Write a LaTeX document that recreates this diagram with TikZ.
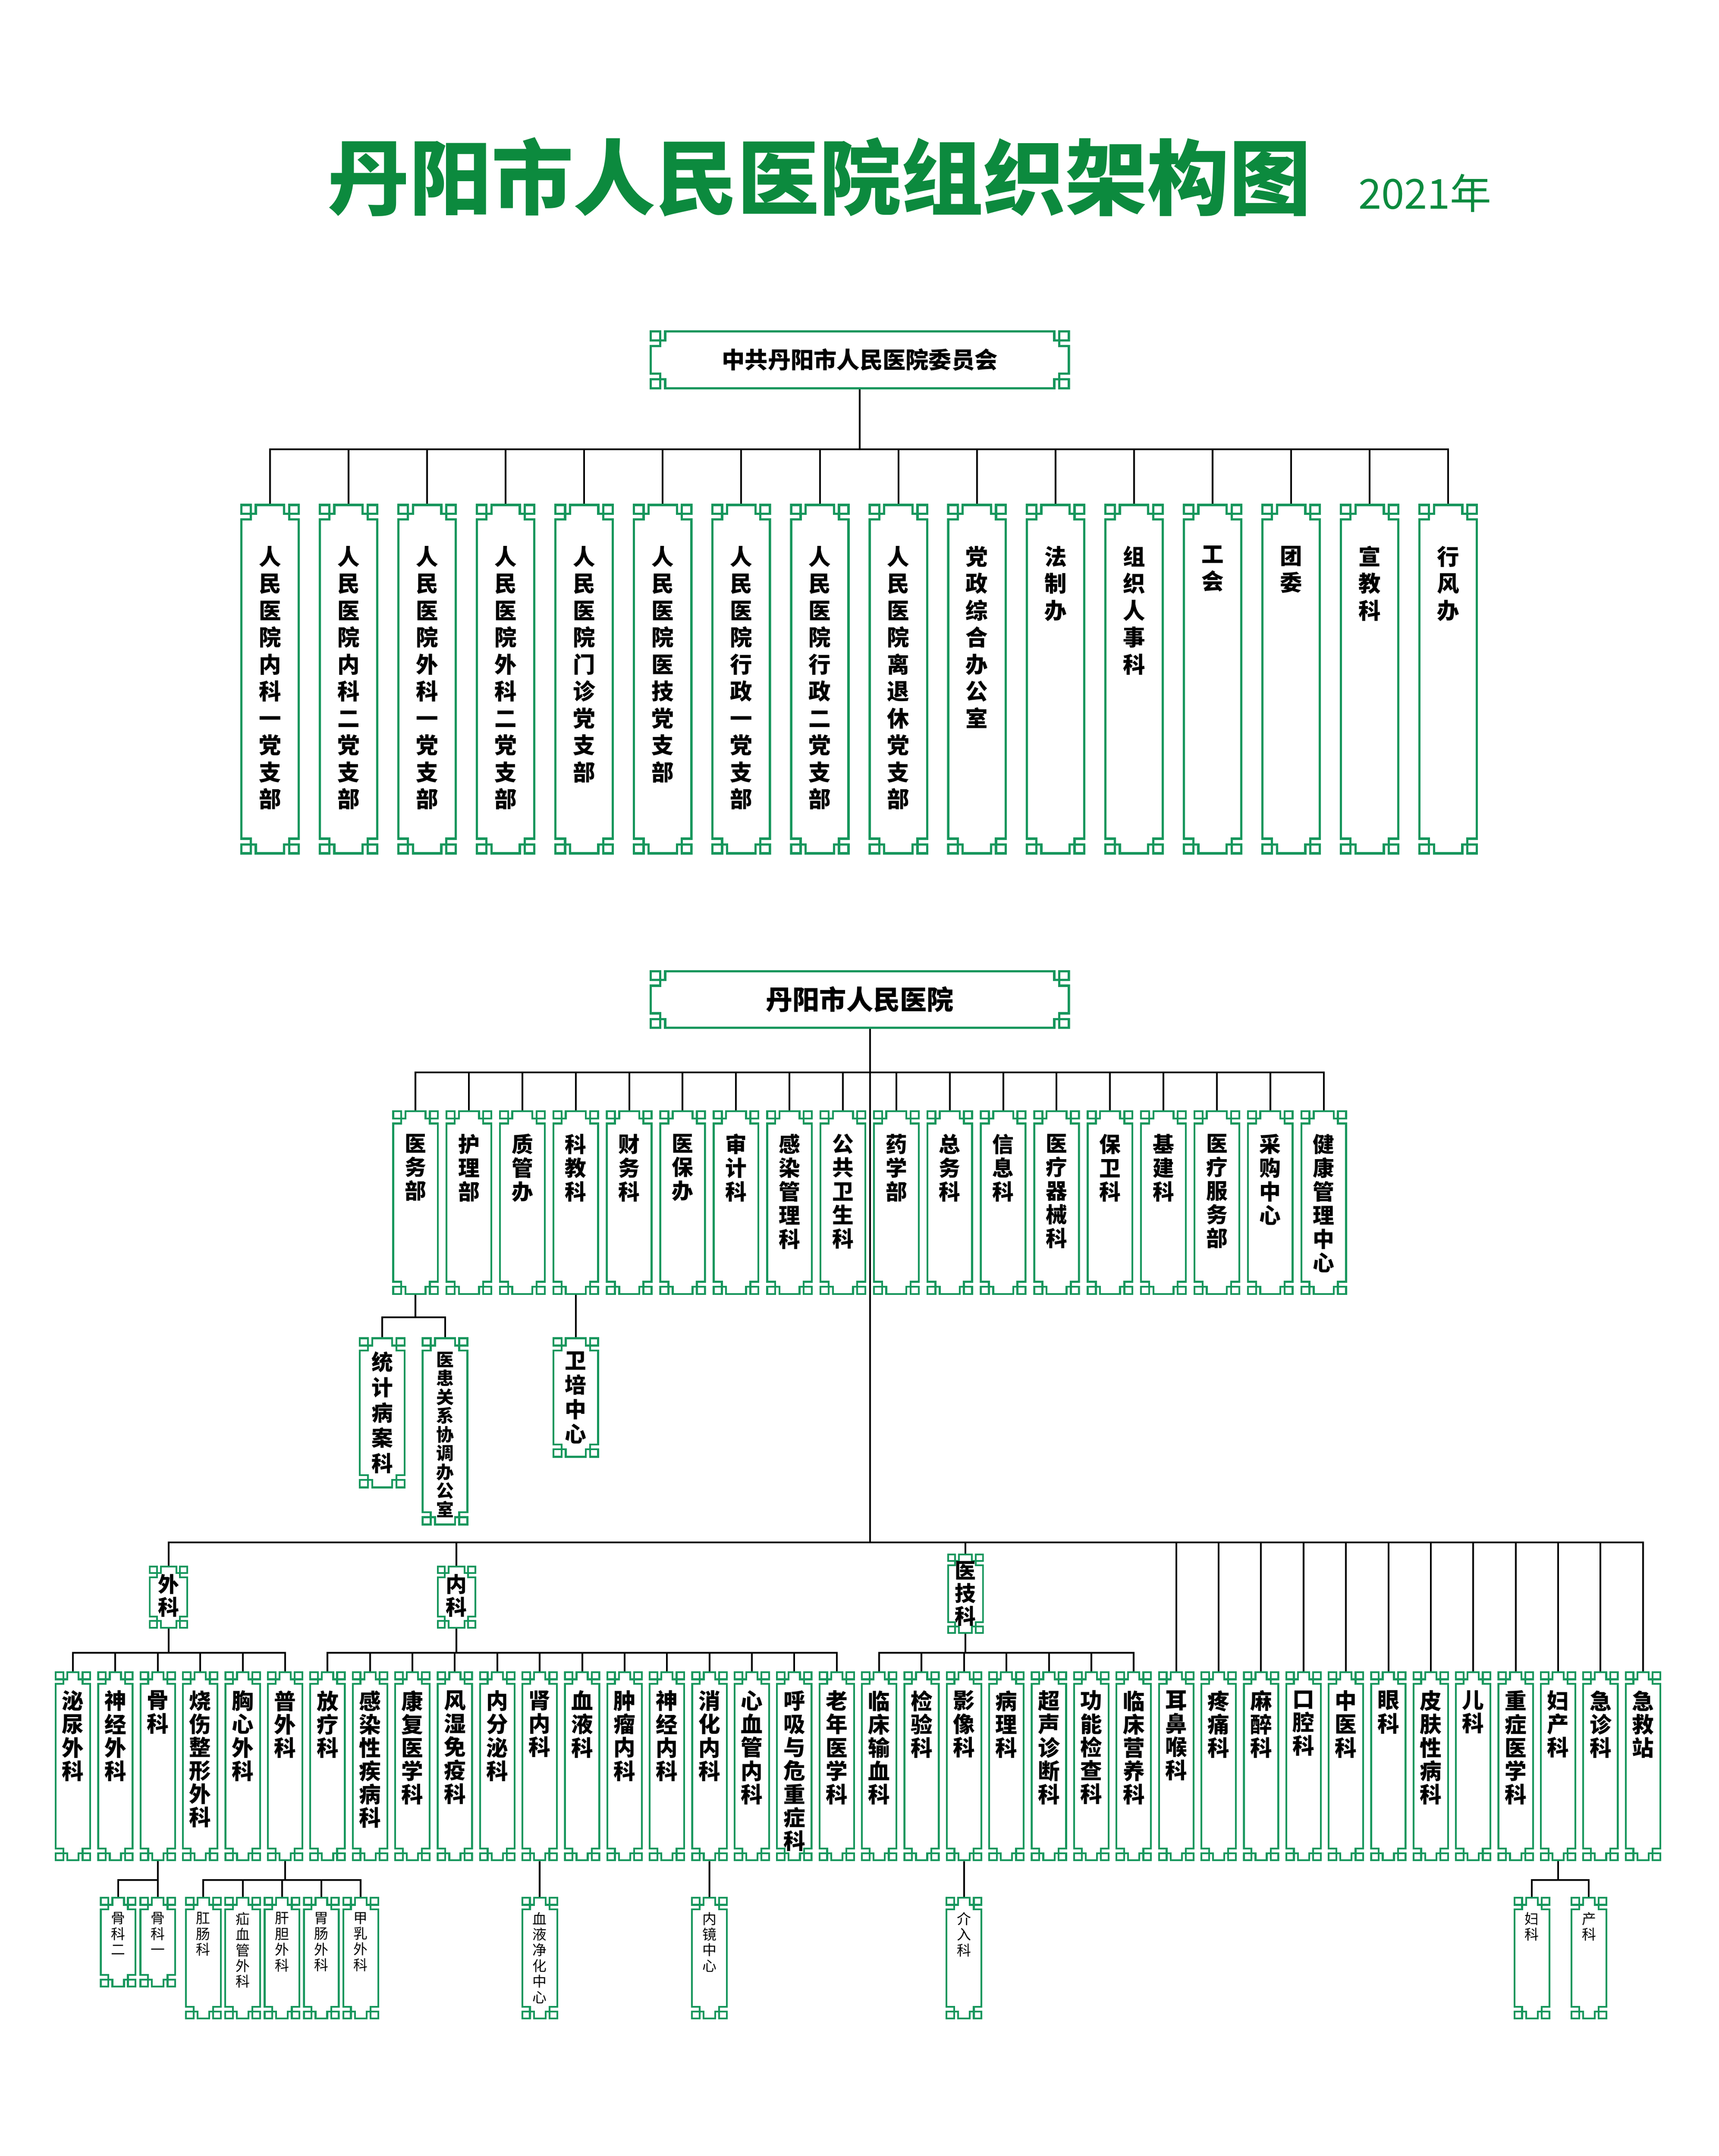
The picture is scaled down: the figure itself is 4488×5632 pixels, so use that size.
\documentclass[tikz,border=0pt]{standalone}
\usepackage{fontspec}
\setmainfont{Noto Sans CJK SC}
\usetikzlibrary{calc}
\definecolor{latgreen}{RGB}{22,150,92}
\definecolor{titlegreen}{RGB}{12,138,62}
% one character per line
\def\vloop#1{\ifx#1\relax\else\vsep#1\def\vsep{\\}\expandafter\vloop\fi}
\newcommand\vtext[1]{\def\vsep{}\edef\vtmp{#1}\expandafter\vloop\vtmp\relax}
\newcommand\vcell[4]{\parbox[t][#2][t]{#1}{\centering\vspace*{#3}\vtext{#4}}}
% lattice frame of a box
\newcommand\latticepath[1]{%
  \draw[latgreen,line width=#1*6pt]
    let \p1=(path picture bounding box.north west),
        \p2=(path picture bounding box.south east) in
    ({\x1+41*#1pt},{\y1-3*#1pt}) -- ({\x2-41*#1pt},{\y1-3*#1pt})
    -- ({\x2-41*#1pt},{\y1-26*#1pt}) -- ({\x2-28*#1pt},{\y1-26*#1pt})
    -- ({\x2-28*#1pt},{\y1-41*#1pt}) -- ({\x2-3*#1pt},{\y1-41*#1pt})
    -- ({\x2-3*#1pt},{\y2+41*#1pt}) -- ({\x2-28*#1pt},{\y2+41*#1pt})
    -- ({\x2-28*#1pt},{\y2+26*#1pt}) -- ({\x2-41*#1pt},{\y2+26*#1pt})
    -- ({\x2-41*#1pt},{\y2+3*#1pt}) -- ({\x1+41*#1pt},{\y2+3*#1pt})
    -- ({\x1+41*#1pt},{\y2+26*#1pt}) -- ({\x1+28*#1pt},{\y2+26*#1pt})
    -- ({\x1+28*#1pt},{\y2+41*#1pt}) -- ({\x1+3*#1pt},{\y2+41*#1pt})
    -- ({\x1+3*#1pt},{\y1-41*#1pt}) -- ({\x1+28*#1pt},{\y1-41*#1pt})
    -- ({\x1+28*#1pt},{\y1-26*#1pt}) -- ({\x1+41*#1pt},{\y1-26*#1pt}) -- cycle
    ({\x1+3*#1pt},{\y1-3*#1pt}) rectangle ({\x1+28*#1pt},{\y1-26*#1pt})
    ({\x2-3*#1pt},{\y1-3*#1pt}) rectangle ({\x2-28*#1pt},{\y1-26*#1pt})
    ({\x1+3*#1pt},{\y2+3*#1pt}) rectangle ({\x1+28*#1pt},{\y2+26*#1pt})
    ({\x2-3*#1pt},{\y2+3*#1pt}) rectangle ({\x2-28*#1pt},{\y2+26*#1pt});
}
\begin{document}
\begin{tikzpicture}[x=1pt,y=-1pt,
  lat/.style={fill=white,inner sep=0pt,outer sep=0pt,anchor=north,path picture={\latticepath{#1}}},
  head/.style={lat=1,minimum width=1098pt,minimum height=154pt},
  link/.style={line width=4.5pt}]
\fill[white] (0,0) rectangle (4488,5632);
\useasboundingbox (0,0) rectangle (4488,5632);

\node[text=titlegreen,font=\fontsize{214pt}{214pt}\selectfont\bfseries] (title) at (2140,463) {丹阳市人民医院组织架构图};
\node[text=titlegreen,font=\fontsize{108pt}{108pt}\selectfont] (year) at (3721,505) {2021年};

% party committee
\node[head,font=\fontsize{60pt}{60pt}\selectfont\bfseries] (party) at (2245,863) {中共丹阳市人民医院委员会};
\foreach \nm [count=\i from 0] in {人民医院内科一党支部,人民医院内科二党支部,人民医院外科一党支部,人民医院外科二党支部,人民医院门诊党支部,人民医院医技党支部,人民医院行政一党支部,人民医院行政二党支部,人民医院离退休党支部,党政综合办公室,法制办,组织人事科,工会,团委,宣教科,行风办}
  \node[lat=1,font=\fontsize{58pt}{70.4pt}\selectfont\bfseries] (zb\i) at ({705+205.1*\i},1316) {\vcell{156pt}{916pt}{110pt}{\nm}};
\coordinate (bar1) at (0,1174);
\draw[link] (party.south) -- (party.south |- bar1);
\draw[link] (zb0.north) |- (bar1 -| zb15.north) -- (zb15.north);
\foreach \i in {1,...,14} \draw[link] (zb\i.north) -- (zb\i.north |- bar1);

% hospital
\node[head,font=\fontsize{70pt}{70pt}\selectfont\bfseries] (hosp) at (2245,2534) {丹阳市人民医院};
\foreach \nm [count=\i from 0] in {医务部,护理部,质管办,科教科,财务科,医保办,审计科,感染管理科,公共卫生科,药学部,总务科,信息科,医疗器械科,保卫科,基建科,医疗服务部,采购中心,健康管理中心}
  \node[lat=0.85,font=\fontsize{56pt}{62pt}\selectfont\bfseries] (ks\i) at ({1085+139.5*\i},2900) {\vcell{122pt}{483pt}{62pt}{\nm}};
\coordinate (bar2) at (0,2801);
\draw[link] (ks0.north) |- (bar2 -| ks17.north) -- (ks17.north);
\foreach \i in {1,...,16} \draw[link] (ks\i.north) -- (ks\i.north |- bar2);
\coordinate (spine) at (2272,4029);
\draw[link] (hosp.south -| spine) -- (spine);

\node[lat=0.85,font=\fontsize{56pt}{66pt}\selectfont\bfseries] (tjba) at (998,3493) {\vcell{122pt}{395pt}{38pt}{统计病案科}};
\node[lat=0.85,font=\fontsize{46pt}{49pt}\selectfont\bfseries] (yhgx) at (1162,3493) {\vcell{122pt}{492pt}{38pt}{医患关系协调办公室}};
\node[lat=0.85,font=\fontsize{56pt}{64pt}\selectfont\bfseries] (wpzx) at (1503.5,3493) {\vcell{122pt}{315pt}{38pt}{卫培中心}};
\coordinate (bar3) at (0,3441);
\draw[link] (ks0.south) -- (ks0.south |- bar3);
\draw[link] (tjba.north) |- (bar3 -| yhgx.north) -- (yhgx.north);
\draw[link] (ks3.south) -- (wpzx.north);

% clinical groups
\node[lat=0.75,font=\fontsize{55pt}{60pt}\selectfont\bfseries] (waike) at (440,4090) {\vcell{102pt}{164pt}{22pt}{外科}};
\node[lat=0.75,font=\fontsize{55pt}{60pt}\selectfont\bfseries] (neike) at (1192,4090) {\vcell{103pt}{164pt}{22pt}{内科}};
\node[lat=0.75,font=\fontsize{55pt}{60pt}\selectfont\bfseries] (yiji) at (2521,4058) {\vcell{96pt}{210pt}{20pt}{医技科}};
\foreach \nm [count=\i from 0] in {泌尿外科,神经外科,骨科,烧伤整形外科,胸心外科,普外科,放疗科,感染性疾病科,康复医学科,风湿免疫科,内分泌科,肾内科,血液科,肿瘤内科,神经内科,消化内科,心血管内科,呼吸与危重症科,老年医学科,临床输血科,检验科,影像科,病理科,超声诊断科,功能检查科,临床营养科,耳鼻喉科,疼痛科,麻醉科,口腔科,中医科,眼科,皮肤性病科,儿科,重症医学科,妇产科,急诊科,急救站}
  \node[lat=0.8,font=\fontsize{57pt}{61pt}\selectfont\bfseries] (bk\i) at ({190.5+110.8*\i},4366) {\vcell{95pt}{496pt}{50pt}{\nm}};
\coordinate (bar4) at (0,4029);
\draw[link] (waike.north) |- (bar4 -| bk37.north) -- (bk37.north);
\draw[link] (neike.north) -- (neike.north |- bar4);
\draw[link] (yiji.north) -- (yiji.north |- bar4);
\foreach \i in {26,...,36} \draw[link] (bk\i.north) -- (bk\i.north |- bar4);
\coordinate (bar5) at (0,4317);
\draw[link] (waike.south) -- (waike.south |- bar5);
\draw[link] (bk0.north) |- (bar5 -| bk5.north) -- (bk5.north);
\foreach \i in {1,...,4} \draw[link] (bk\i.north) -- (bk\i.north |- bar5);
\draw[link] (neike.south) -- (neike.south |- bar5);
\draw[link] (bk6.north) |- (bar5 -| bk18.north) -- (bk18.north);
\foreach \i in {7,...,17} \draw[link] (bk\i.north) -- (bk\i.north |- bar5);
\draw[link] (yiji.south) -- (yiji.south |- bar5);
\draw[link] (bk19.north) |- (bar5 -| bk25.north) -- (bk25.north);
\foreach \i in {20,...,24} \draw[link] (bk\i.north) -- (bk\i.north |- bar5);

% small units
\node[lat=0.8,font=\fontsize{37pt}{41pt}\selectfont] (gk2) at (308.5,4955) {\vcell{96pt}{237pt}{40pt}{骨科二}};
\node[lat=0.8,font=\fontsize{37pt}{41pt}\selectfont] (gk1) at (412.1,4955) {\vcell{96pt}{237pt}{40pt}{骨科一}};
\foreach \nm [count=\i from 0] in {肛肠科,疝血管外科,肝胆外科,胃肠外科,甲乳外科}
  \node[lat=0.8,font=\fontsize{37pt}{41pt}\selectfont] (pw\i) at ({531+102.75*\i},4955) {\vcell{96pt}{320pt}{40pt}{\nm}};
\node[lat=0.8,font=\fontsize{37pt}{41pt}\selectfont] (xyjh) at (1409.3,4955) {\vcell{96pt}{320pt}{40pt}{血液净化中心}};
\node[lat=0.8,font=\fontsize{37pt}{41pt}\selectfont] (njzx) at (1852.5,4955) {\vcell{96pt}{320pt}{40pt}{内镜中心}};
\node[lat=0.8,font=\fontsize{37pt}{41pt}\selectfont] (jrk) at (2517.3,4955) {\vcell{96pt}{320pt}{40pt}{介入科}};
\node[lat=0.8,font=\fontsize{37pt}{41pt}\selectfont] (fuk) at (4000,4955) {\vcell{96pt}{320pt}{40pt}{妇科}};
\node[lat=0.8,font=\fontsize{37pt}{41pt}\selectfont] (chk) at (4149,4955) {\vcell{96pt}{320pt}{40pt}{产科}};
\coordinate (bar6) at (0,4911);
\draw[link] (bk2.south) -- (gk1.north);
\draw[link] (gk2.north) |- (bar6 -| bk2.south);
\draw[link] (bk5.south) -- (bk5.south |- bar6);
\draw[link] (pw0.north) |- (bar6 -| pw4.north) -- (pw4.north);
\foreach \i in {1,2,3} \draw[link] (pw\i.north) -- (pw\i.north |- bar6);
\draw[link] (bk11.south) -- (xyjh.north);
\draw[link] (bk15.south) -- (njzx.north);
\draw[link] (bk21.south) -- (jrk.north);
\draw[link] (bk35.south) -- (bk35.south |- bar6);
\draw[link] (fuk.north) |- (bar6 -| chk.north) -- (chk.north);
\end{tikzpicture}
\end{document}
